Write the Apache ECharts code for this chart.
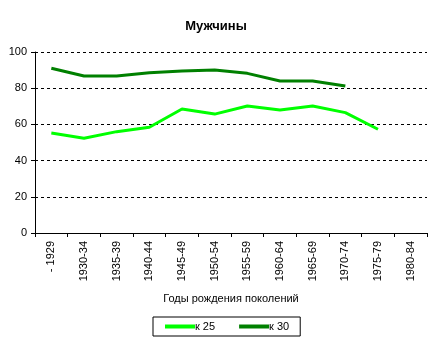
<!DOCTYPE html>
<html><head><meta charset="utf-8">
<script src="https://cdn.jsdelivr.net/npm/echarts@6/dist/echarts.min.js"></script>
<style>html,body{margin:0;padding:0;background:#fff}#c{width:432px;height:344px}</style>
</head><body><div id="c"></div>
<script>
const categories = ['- 1929','1930-34','1935-39','1940-44','1945-49','1950-54','1955-59','1960-64','1965-69','1970-74','1975-79','1980-84'];
const k25 = [55.2, 52.4, 56.0, 58.4, 68.5, 65.7, 70.2, 68.0, 70.2, 66.5, 57.3, null];
const k30 = [91.0, 86.7, 86.7, 88.6, 89.5, 90.0, 88.2, 84.0, 84.0, 81.2, null, null];
const yTicks = [0, 20, 40, 60, 80, 100];
const F = 'Liberation Sans, Arial, sans-serif';
const chart = echarts.init(document.getElementById('c'), null, {renderer:'canvas'});
chart.setOption({
  animation:false,
  backgroundColor:'#fff',
  title:{text:'Мужчины', left:'center', top:15, textStyle:{fontFamily:F, fontSize:13, fontWeight:'bold', color:'#000'}},
  grid:{left:35, right:5, top:52, bottom:111, containLabel:false},
  xAxis:{type:'category', data:categories, boundaryGap:true,
    name:'Годы рождения поколений', nameLocation:'middle', nameGap:60,
    nameTextStyle:{fontFamily:F, fontSize:11, color:'#000'},
    axisLine:{lineStyle:{color:'#000', width:1}},
    axisTick:{show:true, alignWithLabel:false, length:4, lineStyle:{color:'#000'}},
    axisLabel:{rotate:90, interval:0, fontFamily:F, fontSize:11, color:'#000', margin:8}},
  yAxis:{type:'value', min:yTicks[0], max:yTicks[yTicks.length-1], interval:20,
    axisLine:{show:true, lineStyle:{color:'#000'}},
    axisTick:{show:true, length:4, lineStyle:{color:'#000'}},
    axisLabel:{fontFamily:F, fontSize:11, color:'#000', margin:8},
    splitLine:{show:true, lineStyle:{color:'#000', type:[3,3], width:1}}},
  legend:{top:317, left:153, borderColor:'#000', borderWidth:1, padding:[4,11,4,12],
    itemWidth:30, itemHeight:4, itemGap:24, icon:'rect',
    textStyle:{fontFamily:F, fontSize:11, color:'#000', padding:[0,0,0,-5]},
    data:['к 25','к 30']},
  series:[
    {name:'к 25', type:'line', data:k25, showSymbol:false, symbol:'none', color:'#00ff00',
      lineStyle:{width:3, color:'#00ff00'}},
    {name:'к 30', type:'line', data:k30, showSymbol:false, symbol:'none', color:'#008000',
      lineStyle:{width:3, color:'#008000'}}
  ]
});
</script></body></html>
